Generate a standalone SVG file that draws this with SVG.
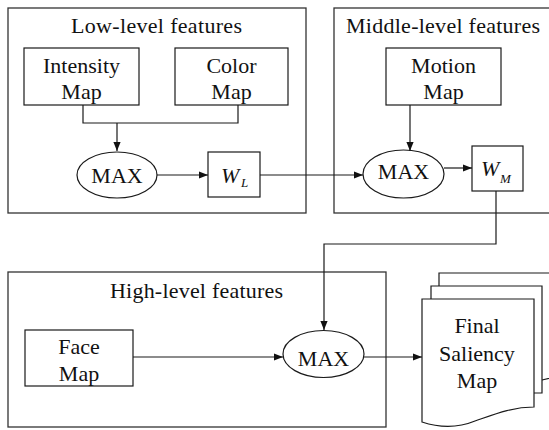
<svg xmlns="http://www.w3.org/2000/svg" width="549" height="430" viewBox="0 0 549 430">
  <style>
    .frame { fill: #ffffff; stroke: #333333; stroke-width: 1.3; }
    .node { fill: #ffffff; stroke: #1a1a1a; stroke-width: 1.2; }
    .wire { fill: none; stroke: #1a1a1a; stroke-width: 1.2; }
    text { font-family: 'Liberation Serif', 'Times New Roman', serif; font-size: 22px; fill: #111111; }
    .label { text-anchor: middle; }
    .it { font-style: italic; }
    .sub { font-style: italic; font-size: 13px; }
  </style>
  <defs>
    <marker id="arrow" viewBox="0 0 10 10" refX="10" refY="5" markerWidth="9" markerHeight="9" markerUnits="userSpaceOnUse" orient="auto">
      <path d="M0,1 L10,5 L0,9 z" fill="#111111"/>
    </marker>
  </defs>

  <rect width="549" height="430" fill="#ffffff"/>

  <!-- feature group frames -->
  <g id="low-level">
    <rect class="frame" x="8" y="8" width="298" height="205"/>
    <text x="71" y="33" textLength="171" lengthAdjust="spacing">Low-level features</text>
  </g>
  <g id="middle-level">
    <rect class="frame" x="334" y="8" width="230" height="205"/>
    <text x="346" y="33" textLength="194" lengthAdjust="spacing">Middle-level features</text>
  </g>
  <g id="high-level">
    <rect class="frame" x="8" y="272" width="378" height="155"/>
    <text x="110" y="298" textLength="173" lengthAdjust="spacing">High-level features</text>
  </g>

  <!-- nodes -->
  <g id="intensity-map">
    <rect class="node" x="24" y="48" width="115" height="57"/>
    <text class="label" x="81.5" y="73">Intensity</text>
    <text class="label" x="81.5" y="99">Map</text>
  </g>
  <g id="color-map">
    <rect class="node" x="175" y="48" width="113" height="57"/>
    <text class="label" x="231.5" y="73">Color</text>
    <text class="label" x="231.5" y="99">Map</text>
  </g>
  <g id="max-low">
    <ellipse class="node" cx="117" cy="175" rx="40" ry="23"/>
    <text class="label" x="117" y="183">MAX</text>
  </g>
  <g id="w-l">
    <rect class="node" x="208" y="152" width="52" height="45"/>
    <text class="it" x="221" y="183">W</text>
    <text class="sub" x="241" y="187">L</text>
  </g>

  <g id="motion-map">
    <rect class="node" x="386" y="48" width="115" height="57"/>
    <text class="label" x="443.5" y="73">Motion</text>
    <text class="label" x="443.5" y="99">Map</text>
  </g>
  <g id="max-middle">
    <ellipse class="node" cx="403.5" cy="174" rx="40.5" ry="24"/>
    <text class="label" x="403.5" y="179">MAX</text>
  </g>
  <g id="w-m">
    <rect class="node" x="472" y="146" width="51" height="45"/>
    <text class="it" x="481" y="176">W</text>
    <text class="sub" x="500" y="183">M</text>
  </g>

  <g id="face-map">
    <rect class="node" x="25" y="330" width="108" height="56"/>
    <text class="label" x="79" y="354">Face</text>
    <text class="label" x="79" y="381">Map</text>
  </g>
  <g id="max-high">
    <ellipse class="node" cx="323.5" cy="354" rx="40.5" ry="23.5"/>
    <text class="label" x="323.5" y="366">MAX</text>
  </g>

  <!-- stacked document shape -->
  <g id="final-saliency-map">
    <path class="node" d="M439,286 V273 H560 V376 L542,380"/>
    <path class="node" d="M431,299 V286 H542 V393 H534"/>
    <path class="node" d="M422,299 H534 V407 C512,407 495,414 475,421 C458,428 440,428 422,422 Z"/>
    <text class="label" x="477" y="333">Final</text>
    <text class="label" x="477" y="361">Saliency</text>
    <text class="label" x="477" y="388">Map</text>
  </g>

  <!-- connectors -->
  <g id="connectors">
    <path class="wire" d="M83,105 V123 H238 V105"/>
    <path class="wire" d="M117,123 V151" marker-end="url(#arrow)"/>
    <path class="wire" d="M157,175 H208" marker-end="url(#arrow)"/>
    <path class="wire" d="M260,175 H363" marker-end="url(#arrow)"/>
    <path class="wire" d="M410,105 V151" marker-end="url(#arrow)"/>
    <path class="wire" d="M444,168 H472" marker-end="url(#arrow)"/>
    <path class="wire" d="M496,191 V244 H324 V330" marker-end="url(#arrow)"/>
    <path class="wire" d="M133,357 H283" marker-end="url(#arrow)"/>
    <path class="wire" d="M364,357 H422" marker-end="url(#arrow)"/>
  </g>
</svg>
